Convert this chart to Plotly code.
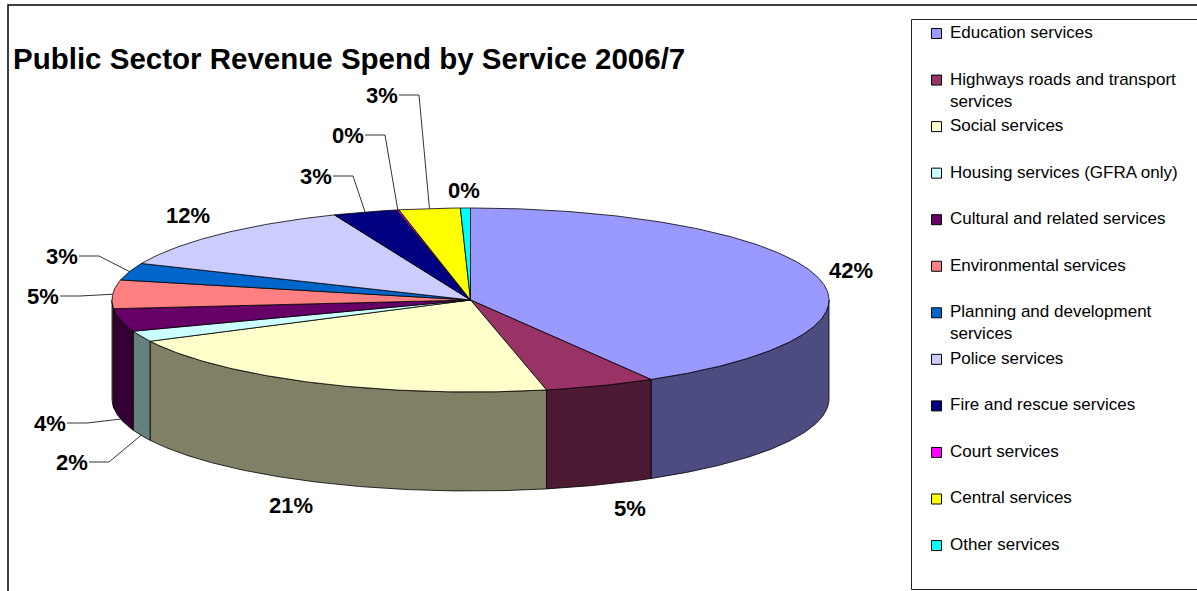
import numpy as np
import plotly.graph_objects as go

# Service categories (legend order = slice order, clockwise from 12 o'clock)
services = [
    "Education services",
    "Highways roads and transport<br>services",
    "Social services",
    "Housing services (GFRA only)",
    "Cultural and related services",
    "Environmental services",
    "Planning and development<br>services",
    "Police services",
    "Fire and rescue services",
    "Court services",
    "Central services",
    "Other services",
]

# Share of total revenue spend, per cent
share = [41.6, 5.0, 21.0, 1.9, 4.0, 5.0, 3.0, 12.3, 2.9, 0.1, 2.75, 0.45]

top_colors = [
    "#9999FF", "#993366", "#FFFFCC", "#CCFFFF", "#660066", "#FF8080",
    "#0066CC", "#CCCCFF", "#000080", "#FF00FF", "#FFFF00", "#00FFFF",
]

# Data-label centres (pixel space) and whether a leader line is drawn
label_pos = [(851, 270), (630, 508), (291, 505), (72, 462), (50, 423), (43, 296),
             (62, 256), (188, 215), (316, 176), (348, 135), (382, 95), (464, 190)]
has_leader = [False, False, False, True, True, True, True, False, True, True, True, False]

W, H = 1197, 591
FONT = "Arial, Liberation Sans, sans-serif"

# Pie geometry (pixel space): elliptical top face plus an extruded side wall
CX, CY, RX, RY, DEPTH = 470.5, 300.0, 358.5, 92.0, 99.0


def rim(theta_deg, drop=0.0):
    t = np.radians(theta_deg)
    return CX + RX * np.sin(t), CY - RY * np.cos(t) + drop


def darker(hex_color, f=0.5):
    h = hex_color.lstrip("#")
    r, g, b = (int(h[i:i + 2], 16) for i in (0, 2, 4))
    return "#%02X%02X%02X" % (round(r * f), round(g * f), round(b * f))


total = sum(share)
pct = [v / total * 100 for v in share]
bounds = np.concatenate([[0.0], np.cumsum(pct) * 3.6])
labels = [f"{p:.0f}%" for p in pct]

fig = go.Figure()
edge = dict(color="black", width=0.8)

# Side walls (only the front half of the cylinder is visible)
for i, col in enumerate(top_colors):
    a, b = max(bounds[i], 90.0), min(bounds[i + 1], 270.0)
    if b <= a:
        continue
    th = np.linspace(a, b, max(3, int((b - a) * 2)))
    xt, yt = rim(th)
    xb, yb = rim(th[::-1], DEPTH)
    xs = np.concatenate([xt, xb, xt[:1]])
    ys = np.concatenate([yt, yb, yt[:1]])
    fig.add_trace(go.Scatter(x=xs, y=ys, mode="lines", fill="toself",
                             fillcolor=darker(col), line=edge,
                             hoverinfo="skip", showlegend=False))

# Top faces
for i, col in enumerate(top_colors):
    a, b = bounds[i], bounds[i + 1]
    th = np.linspace(a, b, max(3, int((b - a) * 2)))
    xa, ya = rim(th)
    xs = np.concatenate([[CX], xa, [CX]])
    ys = np.concatenate([[CY], ya, [CY]])
    fig.add_trace(go.Scatter(x=xs, y=ys, mode="lines", fill="toself",
                             fillcolor=col, line=edge,
                             hoverinfo="skip", showlegend=False))

# Leader lines from labels to slice rims
for i in range(len(share)):
    if not has_leader[i]:
        continue
    mid = (bounds[i] + bounds[i + 1]) / 2
    ax, ay = rim(mid, DEPTH if 90 < mid < 270 else 0.0)
    lx, ly = label_pos[i]
    sx = lx + 17
    fig.add_trace(go.Scatter(x=[sx, sx + 20, ax], y=[ly, ly, ay], mode="lines",
                             line=dict(color="black", width=0.8),
                             hoverinfo="skip", showlegend=False))

annotations = []
for i, (lx, ly) in enumerate(label_pos):
    annotations.append(dict(x=lx, y=ly, xref="x", yref="y", text=f"<b>{labels[i]}</b>",
                            showarrow=False, xanchor="center", yanchor="middle",
                            font=dict(family=FONT, size=22, color="black")))

# Title
annotations.append(dict(x=11, y=58, xref="x", yref="y",
                        text="<b>Public Sector Revenue Spend by Service 2006/7</b>",
                        showarrow=False, xanchor="left", yanchor="middle",
                        font=dict(family=FONT, size=29.5, color="black")))

# Legend: swatches and entries
LEG_Y0, LEG_STEP, LEG_FS = 33.0, 46.55, 17
leg_y = [LEG_Y0 + k * LEG_STEP for k in range(len(services))]
fig.add_trace(go.Scatter(x=[936.5] * len(services), y=[y + 0.5 for y in leg_y], mode="markers",
                         marker=dict(symbol="square", size=10, color=top_colors,
                                     line=dict(color="black", width=1)),
                         hoverinfo="skip", showlegend=False))
for name, y in zip(services, leg_y):
    annotations.append(dict(x=948, y=y - 0.65 * LEG_FS - 1, xref="x", yref="y", text=name,
                            showarrow=False, xanchor="left", yanchor="top", align="left",
                            font=dict(family=FONT, size=LEG_FS, color="black")))

shapes = [
    dict(type="rect", xref="x", yref="y", x0=8, y0=5, x1=1210, y1=600,
         line=dict(color="black", width=1.5), fillcolor="rgba(0,0,0,0)", layer="above"),
    dict(type="rect", xref="x", yref="y", x0=911.5, y0=19.5, x1=1210, y1=589.5,
         line=dict(color="#222222", width=1), fillcolor="rgba(0,0,0,0)", layer="above"),
]

fig.update_layout(
    width=W, height=H,
    margin=dict(l=0, r=0, t=0, b=0),
    paper_bgcolor="white", plot_bgcolor="white",
    xaxis=dict(range=[0, W], visible=False, fixedrange=True),
    yaxis=dict(range=[H, 0], visible=False, fixedrange=True),
    annotations=annotations, shapes=shapes,
    showlegend=False,
)

fig.write_html("out.html")
